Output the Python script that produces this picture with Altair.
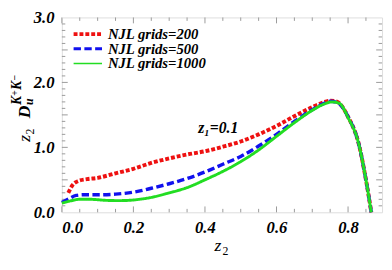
import altair as alt
import pandas as pd

# ---- data ----
series_names = ["NJL grids=200", "NJL grids=500", "NJL grids=1000"]

z_200 = [0.018, 0.03, 0.045, 0.07, 0.10, 0.15, 0.20, 0.25, 0.30, 0.35, 0.40, 0.45, 0.50,
         0.55, 0.60, 0.65, 0.70, 0.73, 0.75, 0.77, 0.80, 0.83, 0.85, 0.865]
d_200 = [0.30, 0.42, 0.48, 0.51, 0.53, 0.60, 0.67, 0.76, 0.83, 0.89, 0.94, 1.01, 1.09,
         1.20, 1.33, 1.48, 1.62, 1.69, 1.72, 1.70, 1.47, 1.05, 0.50, 0.0]

z_500 = [0.0, 0.02, 0.04, 0.06, 0.10, 0.15, 0.20, 0.25, 0.30, 0.35, 0.40, 0.45, 0.50,
         0.55, 0.60, 0.65, 0.70, 0.73, 0.75, 0.77, 0.80, 0.83, 0.85, 0.865]
d_500 = [0.15, 0.21, 0.26, 0.27, 0.27, 0.28, 0.31, 0.37, 0.44, 0.52, 0.62, 0.74, 0.86,
         1.02, 1.20, 1.40, 1.58, 1.67, 1.71, 1.69, 1.47, 1.05, 0.50, 0.0]

z_1000 = [0.0, 0.02, 0.05, 0.08, 0.12, 0.16, 0.20, 0.25, 0.30, 0.35, 0.40, 0.45, 0.50,
          0.55, 0.60, 0.65, 0.70, 0.73, 0.755, 0.775, 0.80, 0.83, 0.85, 0.865]
d_1000 = [0.14, 0.17, 0.20, 0.20, 0.185, 0.18, 0.19, 0.23, 0.30, 0.38, 0.50, 0.63, 0.78,
          0.96, 1.17, 1.38, 1.57, 1.66, 1.70, 1.68, 1.46, 1.05, 0.50, 0.0]

x_major = [0.0, 0.2, 0.4, 0.6, 0.8]
x_minor = [0.05, 0.10, 0.15, 0.25, 0.30, 0.35, 0.45, 0.50, 0.55, 0.65, 0.70, 0.75, 0.85]
y_major = [0.0, 0.5, 1.0, 1.5, 2.0, 2.5, 3.0]
y_minor = [0.1, 0.2, 0.3, 0.4, 0.6, 0.7, 0.8, 0.9, 1.1, 1.2, 1.3, 1.4, 1.6, 1.7, 1.8, 1.9,
           2.1, 2.2, 2.3, 2.4, 2.6, 2.7, 2.8, 2.9]

ann_text = ["z\u2081=0.1"]
ann_x = [0.437]
ann_y = [1.22]

colors = ["#ee1111", "#1111ee", "#22dd22"]
dashes = [[4, 2], [7.5, 3.5], [1, 0]]
widths = [4.0, 3.0, 1.5]

# ---- tables ----
rows = []
for name, zs, ds in zip(series_names, [z_200, z_500, z_1000], [d_200, d_500, d_1000]):
    for i, (z, d) in enumerate(zip(zs, ds)):
        rows.append({"series": name, "z": z, "D": d, "order": i})
df = pd.DataFrame(rows)

W, H = 327, 199
XMAX, YMAX = 0.895, 3.0
xs = alt.Scale(domain=[0, XMAX], nice=False, zero=False)
ys = alt.Scale(domain=[0, YMAX], nice=False, zero=False)
FONT = "Liberation Serif, Times New Roman, serif"
GRAY = "#9a9a9a"

lines = alt.Chart(df).mark_line(interpolate="monotone").encode(
    x=alt.X("z:Q", scale=xs, axis=alt.Axis(
        values=x_major, format=".1f", tickSize=0, domain=False, grid=False,
        labelFont=FONT, labelFontSize=17, labelFontWeight="bold", labelFontStyle="italic",
        labelColor="black", labelPadding=8, title=None)),
    y=alt.Y("D:Q", scale=ys, axis=alt.Axis(
        values=y_major, format=".1f", tickSize=0, domain=False, grid=False,
        labelFont=FONT, labelFontSize=17, labelFontWeight="bold", labelFontStyle="italic",
        labelColor="black", labelPadding=8, title=None)),
    color=alt.Color("series:N", scale=alt.Scale(domain=series_names, range=colors), legend=None),
    strokeDash=alt.StrokeDash("series:N", scale=alt.Scale(domain=series_names, range=dashes),
                              legend=None),
    strokeWidth=alt.StrokeWidth("series:N", scale=alt.Scale(domain=series_names, range=widths),
                                legend=None),
    order="order:Q",
)

def tick_layer(vals, length, axis):
    t = pd.DataFrame({"v": vals})
    if axis == "x":
        bot = alt.Chart(t).mark_rule(color=GRAY, strokeWidth=1).encode(
            x=alt.X("v:Q", scale=xs), y=alt.value(H), y2=alt.value(H - length))
        top = alt.Chart(t).mark_rule(color=GRAY, strokeWidth=1).encode(
            x=alt.X("v:Q", scale=xs), y=alt.value(0), y2=alt.value(length))
        return [bot, top]
    left = alt.Chart(t).mark_rule(color=GRAY, strokeWidth=1).encode(
        y=alt.Y("v:Q", scale=ys), x=alt.value(0), x2=alt.value(length))
    right = alt.Chart(t).mark_rule(color=GRAY, strokeWidth=1).encode(
        y=alt.Y("v:Q", scale=ys), x=alt.value(W), x2=alt.value(W - length))
    return [left, right]

ticks = (tick_layer(x_major, 6, "x") + tick_layer(x_minor, 3.5, "x")
         + tick_layer([v for v in y_major if 0 < v < YMAX], 6, "y") + tick_layer(y_minor, 3.5, "y"))

# manual legend (inside the plot, top-left)
legend_layers = []
for i, name in enumerate(series_names):
    ld = pd.DataFrame({"series": [name]})
    ry = 17 + 15 * i
    legend_layers.append(alt.Chart(ld).mark_rule(
        color=colors[i], strokeDash=dashes[i], strokeWidth=widths[i]).encode(
        x=alt.value(12), x2=alt.value(41), y=alt.value(ry)))
    legend_layers.append(alt.Chart(ld).mark_text(
        font=FONT, fontSize=15, fontWeight="bold", fontStyle="italic", color="black",
        align="left", baseline="middle").encode(
        x=alt.value(47), y=alt.value(ry), text="series:N"))

ann = alt.Chart(pd.DataFrame({"t": ann_text, "x": ann_x, "y": ann_y})).mark_text(
    font=FONT, fontSize=16, fontWeight="bold", fontStyle="italic", color="black",
    align="center", baseline="alphabetic").encode(
    x=alt.X("x:Q", scale=xs), y=alt.Y("y:Q", scale=ys), text="t:N")

# axis titles as text pieces
one = pd.DataFrame({"k": [0]})
def txt(s, x, y, size, weight="normal", style="italic", angle=0):
    return alt.Chart(one).mark_text(
        text=s, font=FONT, fontSize=size, fontWeight=weight, fontStyle=style,
        color="black", align="left", baseline="alphabetic", angle=angle).encode(
        x=alt.value(x), y=alt.value(y))

titles = [
    # x title: z_2
    txt("z", 156, 239, 18),
    txt("2", 164, 243, 12, style="normal"),
    # y title: z_2 D_u^{K+K-}
    txt("z", -32.3, 127, 18, angle=270),
    txt("2", -28.5, 119.5, 12, style="normal", angle=270),
    txt("D", -32.3, 103, 18, "bold", angle=270),
    txt("u", -29.3, 89.5, 12, "bold", angle=270),
    txt("K", -41.3, 89.5, 14, "bold", angle=270),
    txt("+", -44.8, 80, 10, "bold", style="normal", angle=270),
    txt("K", -41.3, 74, 14, "bold", angle=270),
    txt("\u2212", -44.8, 64.5, 10, "bold", style="normal", angle=270),
]

chart = alt.layer(*ticks, lines, ann, *legend_layers, *titles).properties(
    width=W, height=H,
    autosize=alt.AutoSizeParams(type="none"),
    padding={"left": 55, "top": 7, "right": 2, "bottom": 44},
).configure_view(stroke=GRAY, strokeWidth=1).configure(background="white")

chart.save("out.html", embed_options={"renderer": "svg", "actions": False})
